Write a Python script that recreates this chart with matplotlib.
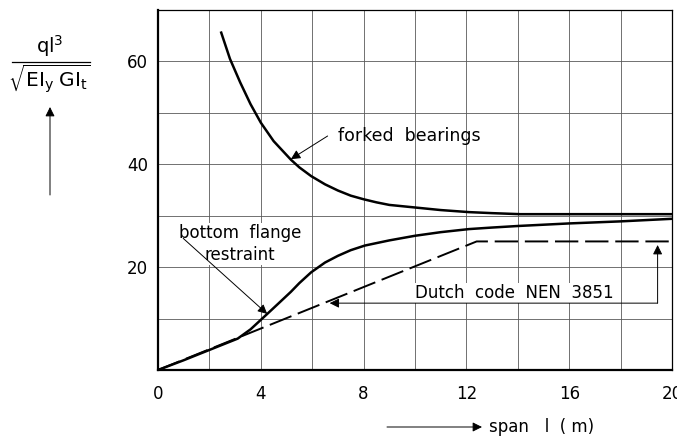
import numpy as np
import matplotlib
matplotlib.use("Agg")
import matplotlib.pyplot as plt
from matplotlib.lines import Line2D

plt.rcParams['font.family'] = ['DejaVu Sans']
plt.rcParams['mathtext.default'] = 'regular'

# ---- data ----
forked_x = [2.46, 2.8, 3.2, 3.6, 4.0, 4.5, 5.17, 5.5, 5.96, 6.5, 7.0, 7.5, 8.0, 8.5, 9.0, 10.0, 11.0, 12.1, 13.0, 14.1, 16.0, 18.0, 20.0]
forked_y = [65.6, 60.5, 55.9, 51.7, 48.1, 44.5, 40.9, 39.4, 37.7, 36.1, 34.9, 33.9, 33.2, 32.6, 32.1, 31.6, 31.1, 30.7, 30.5, 30.3, 30.3, 30.3, 30.3]

flange_x = [0.0, 1.0, 2.0, 3.1, 3.6, 4.25, 4.7, 5.17, 5.5, 5.96, 6.5, 7.0, 7.5, 8.05, 9.0, 10.0, 11.0, 12.1, 13.0, 14.0, 16.0, 18.0, 20.0]
flange_y = [0.0, 1.9, 3.9, 6.1, 7.9, 10.9, 13.0, 15.2, 16.9, 19.0, 20.9, 22.2, 23.3, 24.2, 25.2, 26.1, 26.8, 27.4, 27.7, 28.0, 28.5, 28.9, 29.4]

nen_x = [0.0, 12.4, 20.0]
nen_y = [0.0, 25.0, 25.0]

x_major = [0, 4, 8, 12, 16, 20]
x_minor = [2, 6, 10, 14, 18]
y_major = [20, 40, 60]
y_minor = [10, 30, 50, 70]

W, H = 677, 443
fig = plt.figure(figsize=(W / 100, H / 100), dpi=100)
ax = fig.add_axes([158 / W, 1 - 370 / H, 514 / W, 360 / H])

ax.set_xlim(0, 20)
ax.set_ylim(0, 70)
ax.set_xticks(x_major)
ax.set_xticks(x_minor, minor=True)
ax.set_yticks(y_major)
ax.set_yticks(y_minor, minor=True)
ax.tick_params(which='both', length=0, labelsize=12)
ax.tick_params(axis='x', pad=11)
ax.tick_params(axis='y', pad=7)
ax.grid(True, which='both', color='0.35', lw=0.6)
ax.set_axisbelow(True)
for s in ['left', 'bottom']:
    ax.spines[s].set_linewidth(1.6)
for s in ['top', 'right']:
    ax.spines[s].set_linewidth(0.9)

ax.plot(forked_x, forked_y, color='k', lw=1.8, solid_joinstyle='round')
ax.plot(flange_x, flange_y, color='k', lw=1.8, solid_joinstyle='round')
ax.plot(nen_x, nen_y, color='k', lw=1.4, dashes=(12, 3.5))

arr = dict(arrowstyle='-|>', color='k', lw=0.7, mutation_scale=14, shrinkA=0, shrinkB=0)

# forked bearings
ax.text(7.0, 45.5, 'forked  bearings', fontsize=12.5, ha='left', va='center')
ax.annotate('', xy=(5.17, 41.0), xytext=(6.6, 45.5), arrowprops=arr)

# bottom flange restraint
ax.text(3.2, 24.5, 'bottom  flange\nrestraint', fontsize=12, ha='center', va='center',
        multialignment='center', linespacing=1.3,
        bbox=dict(facecolor='white', edgecolor='none', pad=1))
ax.annotate('', xy=(4.25, 10.9), xytext=(0.98, 25.6), arrowprops=arr)

# Dutch code
ax.text(10.0, 15.0, 'Dutch  code  NEN  3851', fontsize=12, ha='left', va='center',
        bbox=dict(facecolor='white', edgecolor='none', pad=1))
ax.annotate('', xy=(6.68, 13.0), xytext=(19.44, 13.0), arrowprops=arr)
ax.annotate('', xy=(19.44, 24.3), xytext=(19.44, 13.0), arrowprops=arr)

# y label
fig.text(50 / W, 1 - 46 / H, r'$ql^3$', fontsize=14, ha='center', va='center')
fig.add_artist(Line2D([12 / W, 90 / W], [1 - 62 / H, 1 - 62 / H], color='k', lw=0.9,
                      transform=fig.transFigure))
fig.text(49 / W, 1 - 79 / H, r'$\sqrt{EI_y\;GI_t}$', fontsize=14.5, ha='center', va='center')
ax.annotate('', xy=(50, H - 107), xytext=(50, H - 195), xycoords='figure pixels',
            textcoords='figure pixels', arrowprops=arr)

# x label
ax.annotate('', xy=(482, H - 427), xytext=(387, H - 427), xycoords='figure pixels',
            textcoords='figure pixels', arrowprops=arr)
fig.text(489 / W, 1 - 427 / H, r'span   l  ( m)', fontsize=12, ha='left', va='center')

fig.savefig('out.png', dpi=100)
